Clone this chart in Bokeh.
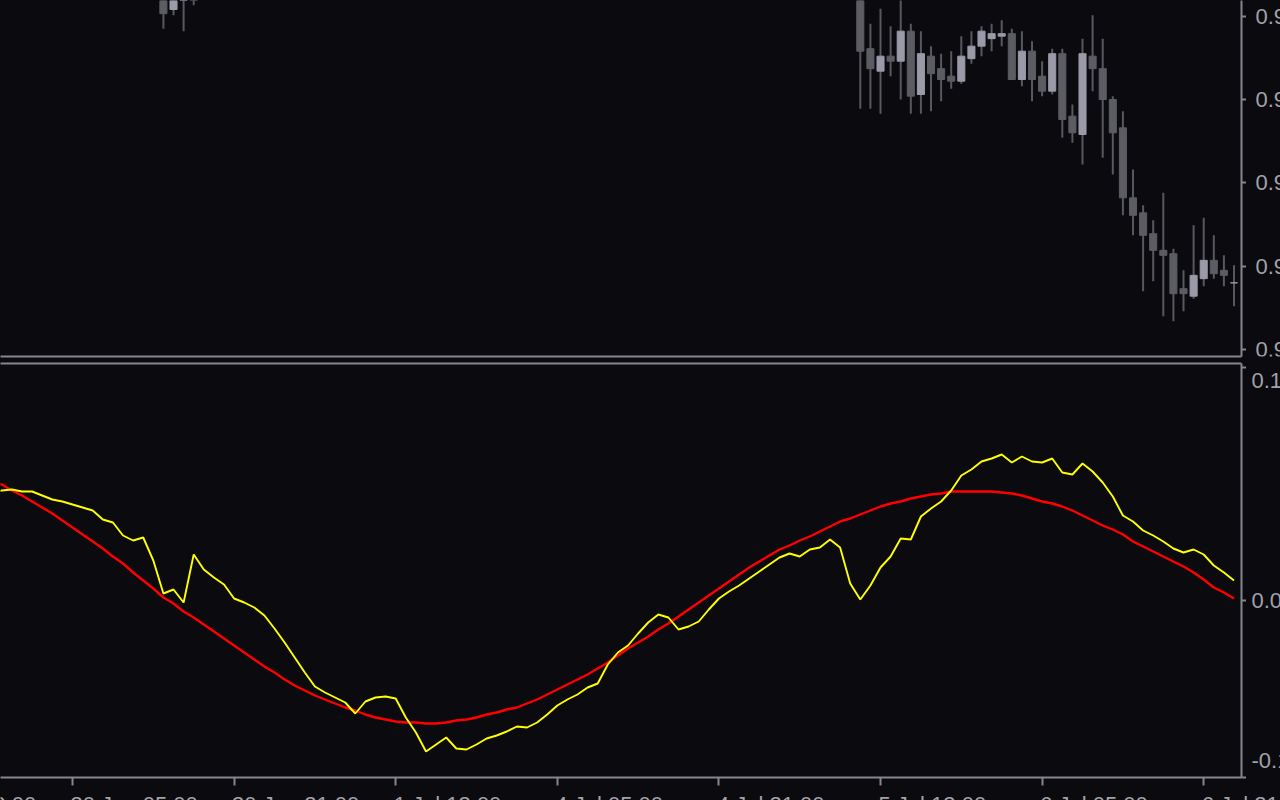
from bokeh.plotting import figure
from bokeh.layouts import column, row
from bokeh.models import Range1d, FixedTicker, LinearAxis, CustomJSTickFormatter, ColumnDataSource
from bokeh.core.properties import value
from bokeh.embed import file_html
from bokeh.resources import INLINE

# ---------------- data ----------------
# bar index 0 = 30 Jun 05:00 (H1 bars)
time_ticks = [-16, 0, 16, 32, 48, 64, 80, 96, 112]
time_labels = ["29 Jun 13:00", "30 Jun 05:00", "30 Jun 21:00", "1 Jul 13:00",
               "4 Jul 05:00", "4 Jul 21:00", "5 Jul 13:00", "6 Jul 05:00", "6 Jul 21:00"]

price_ticks = [0.9760, 0.9750, 0.9740, 0.9730, 0.9720]
price_labels = ["0.97600", "0.97500", "0.97400", "0.97300", "0.97200"]

# visible candles only
candle_idx = [9, 10, 11, 12] + list(range(78, 116))
opens = [0.97667, 0.97608, 0.97637, 0.97655,
         0.97655, 0.97561, 0.97534, 0.97552, 0.97546, 0.97582, 0.97506, 0.97552, 0.97537, 0.97528,
         0.97522, 0.97549, 0.97564, 0.97573, 0.97576, 0.97579, 0.97524, 0.97558, 0.97528, 0.97510,
         0.97555, 0.97480, 0.97458, 0.97552, 0.97537, 0.97500, 0.97466, 0.97382, 0.97364, 0.97339,
         0.97319, 0.97315, 0.97273, 0.97264, 0.97285, 0.97307, 0.97295, 0.97280]
highs = [0.97679, 0.97661, 0.97685, 0.97673,
         0.97667, 0.97591, 0.97609, 0.97588, 0.97625, 0.97591, 0.97582, 0.97564, 0.97555, 0.97558,
         0.97576, 0.97582, 0.97588, 0.97591, 0.97595, 0.97585, 0.97582, 0.97570, 0.97546, 0.97561,
         0.97561, 0.97494, 0.97573, 0.97601, 0.97573, 0.97504, 0.97486, 0.97416, 0.97373, 0.97355,
         0.97388, 0.97321, 0.97295, 0.97349, 0.97358, 0.97337, 0.97313, 0.97301]
lows = [0.97585, 0.97601, 0.97582, 0.97613,
        0.97489, 0.97489, 0.97483, 0.97528, 0.97500, 0.97483, 0.97483, 0.97486, 0.97498, 0.97513,
        0.97519, 0.97543, 0.97552, 0.97558, 0.97564, 0.97524, 0.97516, 0.97498, 0.97504, 0.97506,
        0.97454, 0.97448, 0.97422, 0.97510, 0.97430, 0.97410, 0.97361, 0.97337, 0.97270, 0.97282,
        0.97240, 0.97234, 0.97246, 0.97261, 0.97276, 0.97285, 0.97276, 0.97252]
closes = [0.97603, 0.97649, 0.97673, 0.97631,
          0.97558, 0.97537, 0.97552, 0.97546, 0.97582, 0.97504, 0.97555, 0.97531, 0.97524, 0.97522,
          0.97552, 0.97564, 0.97582, 0.97579, 0.97579, 0.97524, 0.97558, 0.97524, 0.97510, 0.97555,
          0.97476, 0.97460, 0.97555, 0.97537, 0.97500, 0.97460, 0.97382, 0.97361, 0.97337, 0.97319,
          0.97313, 0.97267, 0.97267, 0.97289, 0.97307, 0.97291, 0.97289, 0.97280]

# indicator window (bars -8 .. 115)
bar_idx = list(range(-8, 116))
yellow = [0.0648, 0.0660, 0.0666, 0.0654, 0.0654, 0.0630, 0.0606, 0.0594, 0.0576, 0.0558,
          0.0540, 0.0486, 0.0468, 0.0390, 0.0360, 0.0378, 0.0240, 0.0042, 0.0066, -0.0012,
          0.0276, 0.0186, 0.0138, 0.0096, 0.0012, -0.0012, -0.0042, -0.0090, -0.0168, -0.0252,
          -0.0342, -0.0432, -0.0516, -0.0552, -0.0582, -0.0612, -0.0678, -0.0606, -0.0582, -0.0576,
          -0.0588, -0.0702, -0.0792, -0.0906, -0.0864, -0.0822, -0.0888, -0.0894, -0.0864, -0.0828,
          -0.0810, -0.0786, -0.0756, -0.0762, -0.0732, -0.0684, -0.0630, -0.0594, -0.0564, -0.0522,
          -0.0498, -0.0384, -0.0312, -0.0270, -0.0198, -0.0132, -0.0084, -0.0102, -0.0174, -0.0156,
          -0.0126, -0.0054, 0.0012, 0.0054, 0.0090, 0.0132, 0.0174, 0.0216, 0.0258, 0.0282,
          0.0264, 0.0306, 0.0318, 0.0366, 0.0318, 0.0102, 0.0006, 0.0090, 0.0198, 0.0264,
          0.0372, 0.0366, 0.0504, 0.0552, 0.0594, 0.0660, 0.0750, 0.0786, 0.0834, 0.0852,
          0.0876, 0.0828, 0.0864, 0.0834, 0.0828, 0.0852, 0.0768, 0.0756, 0.0822, 0.0774,
          0.0708, 0.0624, 0.0510, 0.0474, 0.0420, 0.0390, 0.0354, 0.0312, 0.0288, 0.0306,
          0.0276, 0.0210, 0.0168, 0.0120]
red = [0.0714, 0.0696, 0.0660, 0.0630, 0.0594, 0.0558, 0.0522, 0.0480, 0.0438, 0.0396,
       0.0354, 0.0312, 0.0264, 0.0222, 0.0168, 0.0120, 0.0072, 0.0018, -0.0018, -0.0066,
       -0.0102, -0.0144, -0.0186, -0.0228, -0.0270, -0.0312, -0.0354, -0.0396, -0.0432, -0.0474,
       -0.0510, -0.0540, -0.0570, -0.0594, -0.0618, -0.0642, -0.0660, -0.0684, -0.0702, -0.0714,
       -0.0726, -0.0732, -0.0732, -0.0738, -0.0738, -0.0732, -0.0720, -0.0714, -0.0702, -0.0684,
       -0.0672, -0.0654, -0.0642, -0.0618, -0.0594, -0.0564, -0.0534, -0.0504, -0.0474, -0.0444,
       -0.0408, -0.0372, -0.0330, -0.0288, -0.0252, -0.0216, -0.0174, -0.0138, -0.0096, -0.0054,
       -0.0012, 0.0030, 0.0072, 0.0114, 0.0156, 0.0198, 0.0234, 0.0270, 0.0306, 0.0330,
       0.0360, 0.0384, 0.0414, 0.0444, 0.0474, 0.0492, 0.0516, 0.0540, 0.0564, 0.0582,
       0.0594, 0.0612, 0.0624, 0.0636, 0.0642, 0.0654, 0.0654, 0.0654, 0.0654, 0.0654,
       0.0648, 0.0642, 0.0630, 0.0612, 0.0594, 0.0582, 0.0564, 0.0540, 0.0510, 0.0480,
       0.0450, 0.0426, 0.0396, 0.0354, 0.0324, 0.0294, 0.0264, 0.0234, 0.0204, 0.0168,
       0.0126, 0.0078, 0.0048, 0.0012]

ind_ticks = [0.1398, 0.0, -0.1062]
ind_labels = ["0.1398", "0.0000", "-0.1062"]

# ---------------- style ----------------
BG = "#0a0a0f"
AXIS = "#86868d"
TXT = "#a2a2aa"
FONT = "Liberation Sans"
FS = "22px"
BULL = "#9a9aa8"
BEAR = "#5c5c63"
WICK = "#58585e"
PX_PER_BAR = 10.1
X0 = -7.13


def style_axis(ax, ticks, tick_out):
    ax.ticker = FixedTicker(ticks=ticks)
    ax.formatter = CustomJSTickFormatter(code="return ''")
    ax.major_label_text_font_size = "0px"
    ax.major_label_standoff = 0
    ax.axis_line_color = AXIS
    ax.axis_line_width = 2
    ax.major_tick_line_color = AXIS
    ax.major_tick_line_width = 2
    ax.major_tick_out = tick_out
    ax.major_tick_in = 0
    ax.minor_tick_line_color = None


def blank_fig(**kw):
    f = figure(output_backend="svg", toolbar_location=None, background_fill_color=BG,
               border_fill_color=BG, outline_line_color=None, min_border_left=0,
               **kw)
    f.grid.visible = False
    return f


x_range = Range1d(X0, X0 + 1241 / PX_PER_BAR)

# ---------------- price window ----------------
top_y = Range1d(0.971916, 0.976188)
top = blank_fig(frame_width=1241, frame_height=356, x_range=x_range, y_range=top_y,
                y_axis_location="right", min_border_right=5, min_border_top=0, min_border_bottom=4)
style_axis(top.below[0], [], 0)
style_axis(top.right[0], price_ticks, 5)

body_top = [max(o, c) for o, c in zip(opens, closes)]
body_bot = [min(o, c) for o, c in zip(opens, closes)]
body_col = [BULL if c >= o else BEAR for o, c in zip(opens, closes)]
csrc = ColumnDataSource(dict(x=candle_idx, high=highs, low=lows, top=body_top,
                             bottom=body_bot, color=body_col))
top.segment(x0="x", y0="low", x1="x", y1="high", source=csrc, line_color=WICK, line_width=2)
top.vbar(x="x", top="top", bottom="bottom", width=0.7, source=csrc,
         fill_color="color", line_color="color", line_width=1)

top_lab = blank_fig(frame_width=34, frame_height=356, x_range=Range1d(0, 34), y_range=top_y,
                    x_axis_location=None, y_axis_location=None,
                    min_border_right=0, min_border_top=0, min_border_bottom=4)
top_lab.text(x=[9] * len(price_ticks), y=price_ticks, text=price_labels,
             text_font=value(FONT), text_font_size=value(FS), text_color=TXT,
             text_align="left", text_baseline="middle")

# ---------------- indicator window ----------------
bot_y = Range1d(-0.1062, 0.1422)
bot = blank_fig(frame_width=1241, frame_height=414, x_range=x_range, y_range=bot_y,
                y_axis_location="right", min_border_right=5, min_border_top=3, min_border_bottom=9)
above = LinearAxis()
bot.add_layout(above, "above")
style_axis(above, [], 0)
style_axis(bot.below[0], time_ticks, 8)
style_axis(bot.right[0], ind_ticks, 5)

bot.line(bar_idx, red, line_color="#ff0000", line_width=2.4)
bot.line(bar_idx, yellow, line_color="#ffff00", line_width=1.9)

bot_lab = blank_fig(frame_width=34, frame_height=414, x_range=Range1d(0, 34), y_range=bot_y,
                    x_axis_location=None, y_axis_location=None,
                    min_border_right=0, min_border_top=3, min_border_bottom=9)
bot_lab.text(x=[5] * len(ind_ticks), y=ind_ticks, text=ind_labels, y_offset=[13, 0, -17],
             text_font=value(FONT), text_font_size=value(FS), text_color=TXT,
             text_align="left", text_baseline="middle")

# ---------------- time labels ----------------
time_lab = blank_fig(frame_width=1280, frame_height=14,
                     x_range=Range1d(X0, X0 + 1280 / PX_PER_BAR), y_range=Range1d(0, 14),
                     x_axis_location=None, y_axis_location=None,
                     min_border_right=0, min_border_top=0, min_border_bottom=0)
time_lab.text(x=time_ticks, y=[9] * len(time_ticks), text=time_labels, x_offset=-2,
              text_font=value(FONT), text_font_size=value(FS), text_color=TXT,
              text_align="left", text_baseline="top")

p = column(row(top, top_lab, spacing=0), row(bot, bot_lab, spacing=0), time_lab,
           spacing=0, styles={"background-color": BG})

open("out.html", "w").write(file_html(p, INLINE))
